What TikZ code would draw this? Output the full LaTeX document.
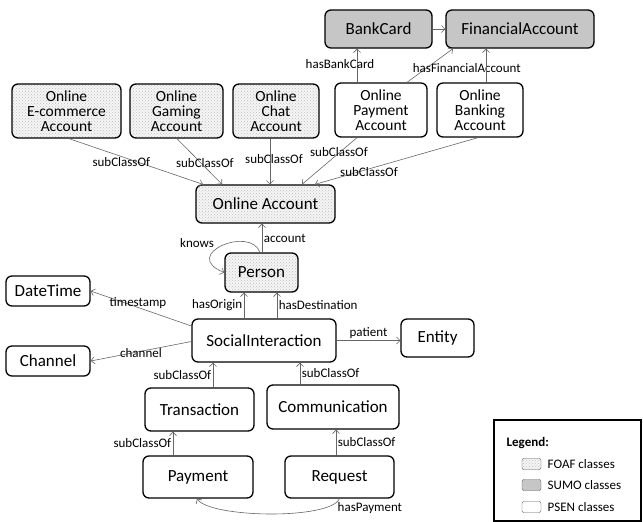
\documentclass[tikz,border=0pt]{standalone}
\usepackage{fontspec}
\setmainfont{Carlito}
\usetikzlibrary{arrows.meta,patterns}

\tikzset{
  cls/.style={draw, line width=1.3pt, rounded corners=6pt, inner sep=2pt, font=\fontsize{17}{17}\selectfont},
  foaf/.style={cls, preaction={fill=gray!8}, pattern=crosshatch dots, pattern color=gray!50},
  sumo/.style={cls, fill=gray!45},
  psen/.style={cls, fill=white},
  acc/.style={align=center, font=\fontsize{15.5}{15}\selectfont, minimum height=54pt},
  rel/.style={draw=gray!80!black, line width=0.6pt, -{Straight Barb[length=3.5pt,width=7pt]}},
  lbl/.style={font=\fontsize{13}{13}\selectfont, inner sep=1.5pt},
  swatch/.style={minimum width=19pt, minimum height=11pt, rounded corners=2pt, line width=0.4pt, draw=gray!70!black}
}

\begin{document}
\begin{tikzpicture}[x=1pt,y=-1pt]
\useasboundingbox (0,0) rectangle (643,522);

\node[sumo, minimum width=107pt, minimum height=38pt] at (378.5,29) (bankcard) {BankCard};
\node[sumo, minimum width=148pt, minimum height=38pt] at (520,29) (finacc) {FinancialAccount};

\node[foaf, acc, minimum width=109pt] at (66.5,111) (ecom) {Online\\E-commerce\\Account};
\node[foaf, acc, minimum width=93pt] at (176.5,111) (gaming) {Online\\Gaming\\Account};
\node[foaf, acc, minimum width=86pt] at (276,111) (chat) {Online\\Chat\\Account};
\node[psen, acc, minimum width=92pt] at (381,110) (payacc) {Online\\Payment\\Account};
\node[psen, acc, minimum width=86pt] at (480,110) (bankacc) {Online\\Banking\\Account};

\node[foaf, minimum width=139pt, minimum height=38pt] at (265.5,204) (oacc) {Online Account};
\node[foaf, minimum width=73pt, minimum height=39pt] at (261.5,272.5) (person) {Person};
\node[psen, minimum width=84pt, minimum height=30pt] at (48,291) (datetime) {DateTime};
\node[psen, minimum width=84pt, minimum height=30pt] at (48,361) (channel) {Channel};
\node[psen, minimum width=144pt, minimum height=43pt] at (264,340.5) (social) {SocialInteraction};
\node[psen, minimum width=73pt, minimum height=38pt] at (437.5,338) (entity) {Entity};
\node[psen, minimum width=109pt, minimum height=43pt] at (199.5,409.5) (trans) {Transaction};
\node[psen, minimum width=132pt, minimum height=44pt] at (333,407) (comm) {Communication};
\node[psen, minimum width=110pt, minimum height=42pt] at (198,477) (payment) {Payment};
\node[psen, minimum width=109pt, minimum height=42pt] at (339.5,477) (request) {Request};

\draw[rel] (bankcard) -- (finacc);
\draw[rel] ([xshift=-24pt]payacc.north) -- ([xshift=-21.5pt]bankcard.south) node[lbl, pos=0.54, xshift=-17pt] {hasBankCard};
\draw[rel] ([xshift=26pt]payacc.north) -- ([xshift=-67pt]finacc.south) node[lbl, pos=0.43, xshift=40pt] {hasFinancialAccount};
\draw[rel] ([xshift=6pt]bankacc.north) -- ([xshift=-34pt]finacc.south);

\draw[rel] ([xshift=2.5pt]ecom.south) -- ([xshift=-62.5pt]oacc.north) node[lbl, pos=0.51, xshift=-16pt] {subClassOf};
\draw[rel] ([xshift=0.5pt]gaming.south) -- ([xshift=-43.5pt]oacc.north) node[lbl, pos=0.53, xshift=4pt] {subClassOf};
\draw[rel] ([xshift=-6pt]chat.south) -- ([xshift=4.5pt]oacc.north) node[lbl, pos=0.44, xshift=4pt] {subClassOf};
\draw[rel] ([xshift=-24pt]payacc.south) -- ([xshift=36.5pt]oacc.north) node[lbl, pos=0.31, xshift=-1pt] {subClassOf};
\draw[rel] ([xshift=-2pt]bankacc.south) -- ([xshift=49.5pt]oacc.north) node[lbl, pos=0.73, xshift=10pt] {subClassOf};

\draw[rel] ([xshift=0.5pt]person.north) -- ([xshift=-3.5pt]oacc.south) node[lbl, right, midway] {account};
\draw[rel] ([xshift=-1.5pt]person.north) .. controls (250,225) and (180,255) .. (person.west);
\node[lbl] at (197,243) (knows) {knows};

\draw[rel] ([xshift=-20pt]social.north) -- ([xshift=-17.5pt]person.south) node[lbl, left, midway] {hasOrigin};
\draw[rel] ([xshift=13pt]social.north) -- ([xshift=15.5pt]person.south) node[lbl, right, midway] {hasDestination};
\draw[rel] ([yshift=14.5pt]social.west) -- (datetime.east) node[lbl, pos=0.53, yshift=4pt] {timestamp};
\draw[rel] ([yshift=-1pt]social.west) -- (channel.east) node[lbl, pos=0.5, yshift=-2pt] {channel};
\draw[rel] (social.east) -- (social.east -| entity.west) node[lbl, above, midway] {patient};

\draw[rel] ([xshift=13.5pt]trans.north) -- ([xshift=-51pt]social.south) node[lbl, left, midway] {subClassOf};
\draw[rel] ([xshift=-33pt]comm.north) -- ([xshift=36pt]social.south) node[lbl, right, midway] {subClassOf};
\draw[rel] ([xshift=-25pt]payment.north) -- ([xshift=-26.5pt]trans.south) node[lbl, left, midway] {subClassOf};
\draw[rel] ([xshift=-3.5pt]request.north) -- ([xshift=3pt]comm.south) node[lbl, right, midway] {subClassOf};
\draw[rel] (request.south) .. controls (330,520) and (210,518) .. ([xshift=-1pt]payment.south);
\node[lbl, anchor=west] at (336,508) (haspay) {hasPayment};

\draw[line width=1.2pt] (494,420) rectangle (641,521);
\node[lbl, anchor=west, font=\fontsize{13}{13}\selectfont\bfseries] at (505,443) (legend) {Legend:};
\node[foaf, swatch] at (531.5,464) (kfoaf) {};
\node[sumo, swatch] at (531.5,485) (ksumo) {};
\node[psen, swatch] at (531.5,507) (kpsen) {};
\node[lbl, anchor=west] at (546,464) (tfoaf) {FOAF classes};
\node[lbl, anchor=west] at (546,485) (tsumo) {SUMO classes};
\node[lbl, anchor=west] at (546,507) (tpsen) {PSEN classes};
\end{tikzpicture}
\end{document}
